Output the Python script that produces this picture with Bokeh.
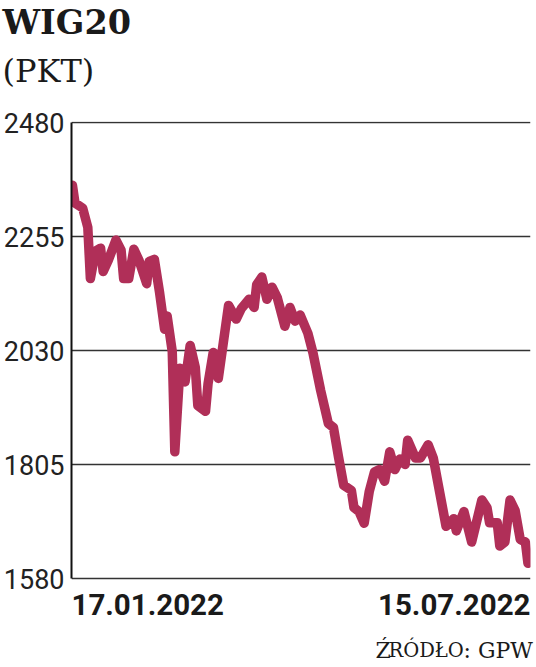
import pandas as pd
from bokeh.plotting import figure
from bokeh.layouts import column
from bokeh.models import Range1d, FixedTicker
from bokeh.core.properties import value
from bokeh.embed import file_html
from bokeh.resources import INLINE

# ---- data ----
dates = [
    "2022-01-17", "2022-01-18", "2022-01-21", "2022-01-23", "2022-01-24", "2022-01-26",
    "2022-01-28", "2022-01-29", "2022-01-31", "2022-02-03", "2022-02-05", "2022-02-06",
    "2022-02-08", "2022-02-10", "2022-02-12", "2022-02-15", "2022-02-16", "2022-02-18",
    "2022-02-20", "2022-02-22", "2022-02-23", "2022-02-25", "2022-02-26", "2022-02-28",
    "2022-03-02", "2022-03-04", "2022-03-06", "2022-03-07", "2022-03-10", "2022-03-11",
    "2022-03-13", "2022-03-15", "2022-03-19", "2022-03-22", "2022-03-24", "2022-03-27",
    "2022-03-29", "2022-03-30", "2022-04-01", "2022-04-03", "2022-04-05", "2022-04-07",
    "2022-04-10", "2022-04-12", "2022-04-14", "2022-04-16", "2022-04-19", "2022-04-21",
    "2022-04-24", "2022-04-27", "2022-04-29", "2022-05-01", "2022-05-03", "2022-05-06",
    "2022-05-07", "2022-05-09", "2022-05-11", "2022-05-13", "2022-05-15", "2022-05-17",
    "2022-05-19", "2022-05-21", "2022-05-23", "2022-05-25", "2022-05-27", "2022-05-28",
    "2022-05-31", "2022-06-02", "2022-06-05", "2022-06-07", "2022-06-09", "2022-06-12",
    "2022-06-15", "2022-06-16", "2022-06-19", "2022-06-22", "2022-06-26", "2022-06-28",
    "2022-06-29", "2022-07-02", "2022-07-03", "2022-07-05", "2022-07-07", "2022-07-09",
    "2022-07-11", "2022-07-13", "2022-07-14", "2022-07-15",
]
wig20 = [
    2356, 2321, 2311, 2273, 2172, 2226, 2232, 2186, 2208, 2248, 2228, 2172,
    2172, 2230, 2208, 2162, 2206, 2210, 2146, 2072, 2098, 2028, 1830, 1995,
    1968, 2040, 1997, 1921, 1910, 1965, 2026, 1975, 2119, 2092, 2113, 2131,
    2115, 2160, 2175, 2131, 2155, 2135, 2078, 2115, 2088, 2100, 2064, 2025,
    1951, 1886, 1878, 1819, 1764, 1754, 1720, 1712, 1689, 1752, 1790, 1795,
    1772, 1830, 1795, 1816, 1805, 1853, 1818, 1818, 1844, 1818, 1764, 1683,
    1698, 1674, 1712, 1652, 1735, 1720, 1690, 1690, 1644, 1652, 1735, 1714,
    1657, 1652, 1610, 1616,
]
y_ticks = [1580, 1805, 2030, 2255, 2480]
x_labels = ["17.01.2022", "15.07.2022"]
title_text = "WIG20"
unit_text = "(PKT)"
source_parts = ["Ź", "RÓDŁO", ": GPW"]

# ---- layout constants (canvas pixels) ----
W = 536
TOP_H = 100                 # title panel
GRID_TOP, GRID_BOT = 122, 578   # pixel rows of 2480 and 1580
FRAME_TOP, FRAME_BOT = 121, 630
BOT_H = 667 - FRAME_BOT     # source panel
DATE_ROW = 604              # vertical centre of the date labels
INK = "#1a1a1a"

ppu = (GRID_BOT - GRID_TOP) / (y_ticks[-1] - y_ticks[0])   # pixels per index point
y_lo = y_ticks[0] - (FRAME_BOT - GRID_BOT) / ppu
y_hi = y_ticks[-1] + (GRID_TOP - FRAME_TOP) / ppu
y_date = y_ticks[0] - (DATE_ROW - GRID_BOT) / ppu

x = pd.to_datetime(dates)


def no_align(f):
    if "frame_align" in f.properties():
        f.frame_align = False


def text_panel(h):
    f = figure(width=W, height=h, output_backend="svg", toolbar_location=None,
               title=None,
               x_range=Range1d(0, W), y_range=Range1d(h, 0),
               x_axis_location=None, y_axis_location=None,
               min_border=0, min_border_left=0, min_border_right=0,
               min_border_top=0, min_border_bottom=0)
    f.outline_line_color = None
    f.grid.visible = False
    f.background_fill_color = "white"
    f.border_fill_color = "white"
    no_align(f)
    return f


def put(f, px, py, txt, font, size, style="normal", align="left"):
    f.text(x=[px], y=[py], text=[txt], text_font=value(font),
           text_font_size=value(size), text_font_style=style,
           text_align=align, text_baseline="middle", text_color=INK)


# ---- title panel ----
top = text_panel(TOP_H)
put(top, 2, 21.5, title_text, "DejaVu Serif", "33.5px", "bold")
put(top, 2, 70.5, unit_text, "DejaVu Serif", "32px")

# ---- main chart ----
p = figure(width=W, height=FRAME_BOT - TOP_H, output_backend="svg",
           toolbar_location=None, title=None, x_axis_type="datetime",
           x_range=Range1d(x[0] - pd.Timedelta(hours=9), x[-1]),
           y_range=Range1d(y_lo, y_hi),
           min_border_left=70, min_border_right=6,
           min_border_top=FRAME_TOP - TOP_H, min_border_bottom=0)
no_align(p)
p.background_fill_color = "white"
p.border_fill_color = "white"
p.outline_line_color = None
p.xaxis.visible = False
p.xgrid.visible = False

p.yaxis.ticker = FixedTicker(ticks=y_ticks)
p.yaxis.bounds = (y_ticks[0], y_ticks[-1])
p.yaxis.major_tick_line_color = None
p.yaxis.minor_tick_line_color = None
p.yaxis.major_tick_out = 0
p.yaxis.major_tick_in = 0
p.yaxis.axis_line_color = "#111111"
p.yaxis.axis_line_width = 2
p.yaxis.major_label_text_font = "Roboto"
p.yaxis.major_label_text_font_size = "27px"
p.yaxis.major_label_text_color = "#222222"
p.yaxis.major_label_standoff = 7

p.ygrid.ticker = FixedTicker(ticks=y_ticks)
p.ygrid.grid_line_color = "#333333"
p.ygrid.grid_line_width = 1.5

p.line(x, wig20, line_width=9.5, line_color="#b02f58",
       line_join="round", line_cap="round")

# date labels at the first and last session
p.text(x=[x[0].to_pydatetime()], y=[y_date], text=[x_labels[0]],
       text_font=value("Roboto"), text_font_size=value("29.5px"),
       text_font_style="bold", text_align="left", text_baseline="middle",
       text_color=INK, x_offset=-1)
p.text(x=[x[-1].to_pydatetime()], y=[y_date], text=[x_labels[1]],
       text_font=value("Roboto"), text_font_size=value("29.5px"),
       text_font_style="bold", text_align="right", text_baseline="middle",
       text_color=INK)

# ---- bottom panel: source (small caps imitation) ----
bot = text_panel(BOT_H)
put(bot, 375, 19.5, source_parts[0], "DejaVu Serif", "22px")
put(bot, 388, 20.4, source_parts[1], "DejaVu Serif", "19.5px")
put(bot, 463, 19.5, source_parts[2], "DejaVu Serif", "22px")

layout = column(top, p, bot, spacing=0)
open("out.html", "w").write(file_html(layout, INLINE))
